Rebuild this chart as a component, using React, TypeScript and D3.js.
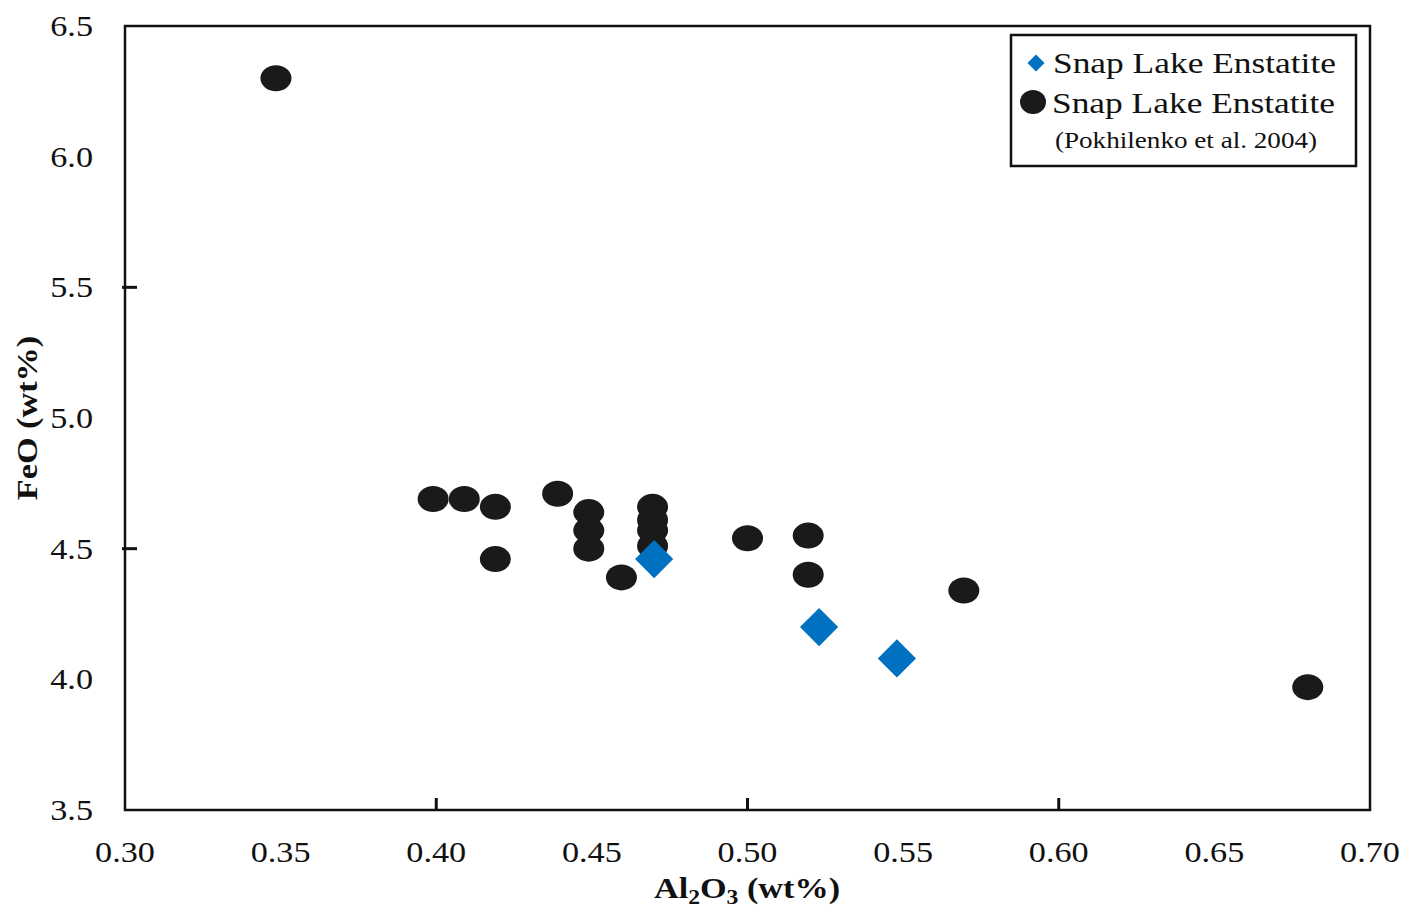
import React from "react";
import * as d3 from "d3";

// Snap Lake enstatite: this study (diamonds) and Pokhilenko et al. 2004 (circles)
const studyAl2O3 = [0.47, 0.523, 0.548];
const studyFeO = [4.46, 4.2, 4.08];

const pokhAl2O3 = [0.3485, 0.399, 0.409, 0.419, 0.419, 0.439, 0.449, 0.449, 0.449, 0.4595, 0.4695, 0.4695, 0.4695, 0.4695, 0.5, 0.5195, 0.5195, 0.5695, 0.68];
const pokhFeO = [6.3, 4.69, 4.69, 4.66, 4.46, 4.71, 4.64, 4.57, 4.5, 4.39, 4.66, 4.61, 4.57, 4.51, 4.54, 4.55, 4.4, 4.34, 3.97];

const xTickLabels = [0.3, 0.35, 0.4, 0.45, 0.5, 0.55, 0.6, 0.65, 0.7];
const xTickMarks = [0.4, 0.5, 0.6];
const yTickLabels = [3.5, 4.0, 4.5, 5.0, 5.5, 6.0, 6.5];
const yTickMarks = [4.5, 5.5];

const legendLabel = "Snap Lake Enstatite";
const legendRef = "(Pokhilenko et al. 2004)";

const W = 1419;
const H = 910;
const left = 125;
const right = 1370;
const top = 26;
const bottom = 810;

// text in this figure is set wide
const stretch = 1.18;

const serif = "'Liberation Serif', 'Times New Roman', serif";
const blue = "#0070C0";
const dark = "#1a1a1a";

function WideText(props: {
  x: number;
  y: number;
  size: number;
  anchor?: "start" | "middle" | "end";
  bold?: boolean;
  rotate?: number;
  children: React.ReactNode;
}) {
  const { x, y, size, anchor = "start", bold = false, rotate = 0, children } = props;
  return (
    <text
      transform={`translate(${x}, ${y}) rotate(${rotate}) scale(${stretch}, 1)`}
      textAnchor={anchor}
      fontSize={size}
      fontWeight={bold ? "bold" : "normal"}
      fill="#111"
    >
      {children}
    </text>
  );
}

export default function App() {
  const x = d3.scaleLinear().domain([0.3, 0.7]).range([left, right]);
  const y = d3.scaleLinear().domain([3.5, 6.5]).range([bottom, top]);
  const diamond = d3.symbol().type(d3.symbolSquare).size(27 * 27)();
  const legendDiamond = d3.symbol().type(d3.symbolSquare).size(12 * 12)();

  return (
    <svg
      width={W}
      height={H}
      style={{ position: "absolute", left: 0, top: 0, background: "#fff" }}
      fontFamily={serif}
    >
      <rect x={0} y={0} width={W} height={H} fill="#fff" />

      {/* plot frame */}
      <rect x={left} y={top} width={right - left} height={bottom - top} fill="none" stroke="#111" strokeWidth={2.5} />

      {/* tick marks */}
      {xTickMarks.map((v) => (
        <line key={"xt" + v} x1={x(v)} x2={x(v)} y1={bottom} y2={bottom - 12} stroke="#111" strokeWidth={3} />
      ))}
      {yTickMarks.map((v) => (
        <line key={"yt" + v} x1={left - 3} x2={left + 12} y1={y(v)} y2={y(v)} stroke="#111" strokeWidth={3} />
      ))}

      {/* tick labels */}
      {xTickLabels.map((v) => (
        <WideText key={"xl" + v} x={x(v)} y={862} size={29} anchor="middle">
          {d3.format(".2f")(v)}
        </WideText>
      ))}
      {yTickLabels.map((v) => (
        <WideText key={"yl" + v} x={93} y={y(v) + 10} size={29} anchor="end">
          {d3.format(".1f")(v)}
        </WideText>
      ))}

      {/* axis titles */}
      <WideText x={747} y={898} size={29} anchor="middle" bold>
        Al<tspan fontSize={20} dy={6}>2</tspan>
        <tspan dy={-6}>O</tspan>
        <tspan fontSize={20} dy={6}>3</tspan>
        <tspan dy={-6}> (wt%)</tspan>
      </WideText>
      <WideText x={37} y={418} size={29} anchor="middle" bold rotate={-90}>
        FeO (wt%)
      </WideText>

      {/* Pokhilenko et al. 2004 */}
      {pokhAl2O3.map((v, i) => (
        <ellipse key={"p" + i} cx={x(v)} cy={y(pokhFeO[i])} rx={15.5} ry={13} fill={dark} />
      ))}

      {/* this study */}
      {studyAl2O3.map((v, i) => (
        <path
          key={"s" + i}
          d={diamond}
          transform={`translate(${x(v)}, ${y(studyFeO[i])}) rotate(45)`}
          fill={blue}
        />
      ))}

      {/* legend */}
      <rect x={1011} y={35} width={345} height={131} fill="#fff" stroke="#111" strokeWidth={2.5} />
      <path d={legendDiamond} transform="translate(1036, 63) rotate(45)" fill={blue} />
      <WideText x={1053} y={73} size={30}>{legendLabel}</WideText>
      <ellipse cx={1033} cy={102} rx={13} ry={12} fill={dark} />
      <WideText x={1052} y={113} size={30}>{legendLabel}</WideText>
      <WideText x={1186} y={148} size={23} anchor="middle">{legendRef}</WideText>
    </svg>
  );
}
